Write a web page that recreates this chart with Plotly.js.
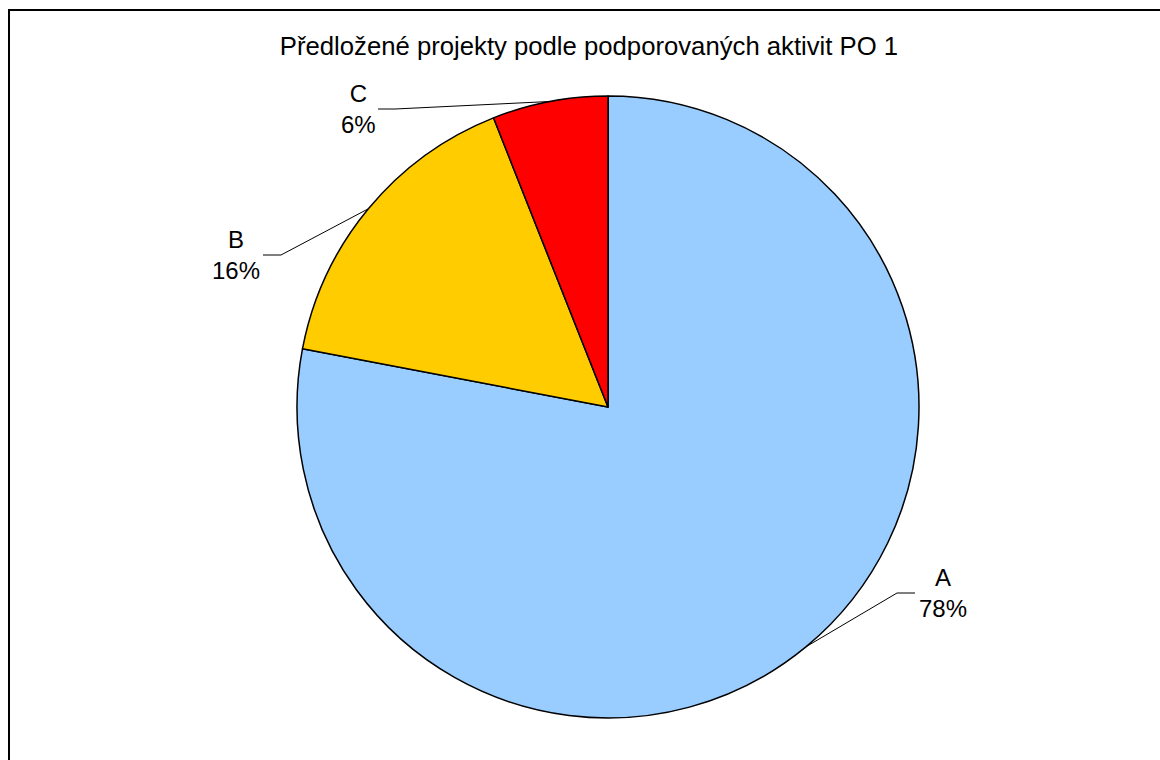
<!DOCTYPE html>
<html>
<head>
<meta charset="utf-8">
<script src="https://cdn.plot.ly/plotly-3.0.1.min.js"></script>
<style>html,body{margin:0;padding:0;background:#fff;}#chart{width:1160px;height:760px;}</style>
</head>
<body>
<div id="chart"></div>
<script>
// ---- data ----
const categories = ['A', 'B', 'C'];
const values = [78, 16, 6];
const sliceColors = ['#99CCFF', '#FFCC00', '#FF0000'];
const chartTitle = 'Předložené projekty podle podporovaných aktivit PO 1';

// ---- layout constants (pixels) ----
const W = 1160, H = 760;
const CX = 608, CY = 407, R = 311;
// label placement: elbow point and text anchor, per category
const labelCfg = [
  {ex: 897, ey: 593, hx: 915, tx: 917, anchor: 'left'},
  {ex: 281, ey: 255, hx: 263, tx: 262, anchor: 'right'},
  {ex: 395, ey: 109, hx: 378, tx: 378, anchor: 'right'}
];

const px = x => x / W;
const py = y => 1 - y / H;

const total = values.reduce((a, b) => a + b, 0);
const shapes = [];
const annotations = [];
let cum = 0;
values.forEach((v, i) => {
  const mid = (cum + v / 2) / total * 2 * Math.PI; // clockwise from top
  cum += v;
  const sx = CX + R * Math.sin(mid);
  const sy = CY - R * Math.cos(mid);
  const c = labelCfg[i];
  shapes.push({type: 'path', xref: 'paper', yref: 'paper',
    path: `M ${px(sx)} ${py(sy)} L ${px(c.ex)} ${py(c.ey)} L ${px(c.hx)} ${py(c.ey)}`,
    line: {color: '#000', width: 1}});
  annotations.push({xref: 'paper', yref: 'paper', x: px(c.tx), y: py(c.ey),
    xanchor: c.anchor, yanchor: 'middle', align: 'center', showarrow: false,
    text: categories[i] + '<br>' + Math.round(v / total * 100) + '%',
    font: {family: 'Liberation Sans, Arial, sans-serif', size: 24, color: '#000'}});
});

// outer frame
shapes.push({type: 'rect', xref: 'paper', yref: 'paper',
  x0: px(9), x1: 1.05, y0: -0.05, y1: py(10), line: {color: '#000', width: 2}});

const trace = {
  type: 'pie',
  labels: categories,
  values: values,
  sort: false,
  direction: 'clockwise',
  rotation: 0,
  textinfo: 'none',
  hoverinfo: 'label+percent',
  marker: {colors: sliceColors, line: {color: '#000', width: 1.5}},
  domain: {x: [px(CX - R), px(CX + R)], y: [py(CY + R), py(CY - R)]},
  showlegend: false
};

const layout = {
  width: W, height: H,
  margin: {l: 0, r: 0, t: 0, b: 0},
  paper_bgcolor: '#fff',
  title: {text: chartTitle, x: px(589), xanchor: 'center', y: py(46), yanchor: 'middle',
    font: {family: 'Liberation Sans, Arial, sans-serif', size: 25.7, color: '#000'}},
  showlegend: false,
  shapes: shapes,
  annotations: annotations
};

Plotly.newPlot('chart', [trace], layout, {displayModeBar: false, staticPlot: true});
</script>
</body>
</html>
